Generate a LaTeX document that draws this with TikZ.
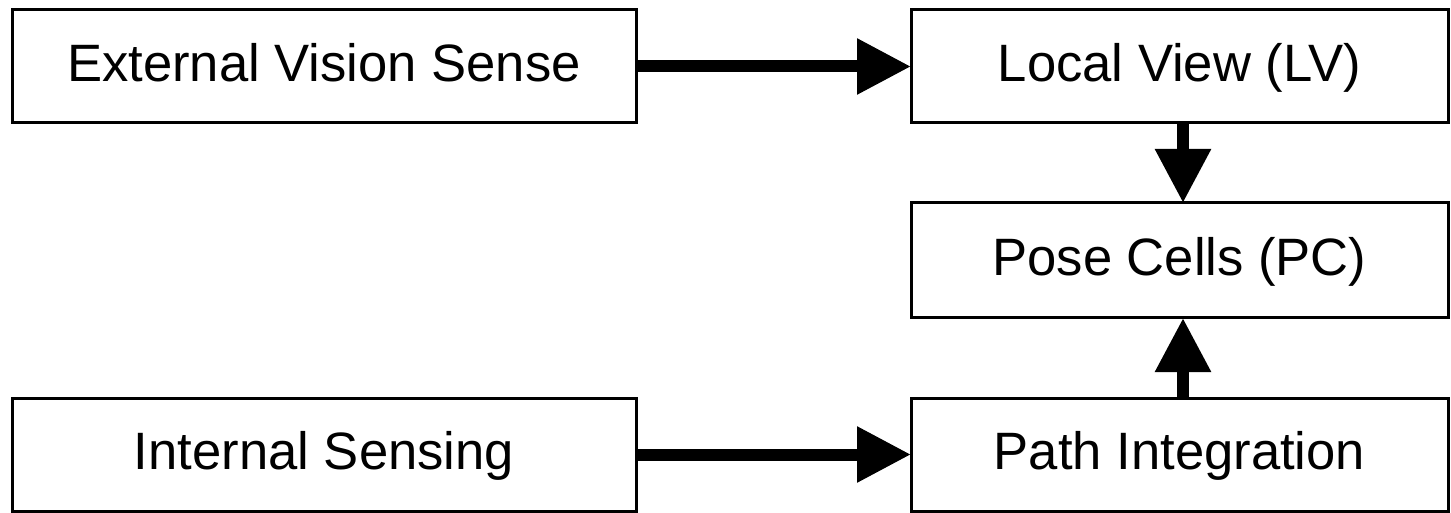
\documentclass[tikz,border=0pt]{standalone}
\usepackage{fontspec}
\setmainfont{Liberation Sans}
\usetikzlibrary{arrows.meta}
\begin{document}
\begin{tikzpicture}[x=0.5pt,y=-0.5pt,
  block/.style={draw=black, line width=1.5pt, fill=white, inner sep=0pt, outer sep=0pt,
    font=\fontsize{26.3pt}{32pt}\selectfont, text height=19pt, text depth=4pt},
  wideblock/.style={block, minimum width=312pt, minimum height=56.5pt},
  rightblock/.style={block, minimum width=268.5pt, minimum height=56.5pt},
  flow/.style={line width=6pt, -{Triangle[length=27pt,width=26.5pt]}}]
  \useasboundingbox (0,0) rectangle (1451,513);
  % left column: sensory inputs
  \node[wideblock] (evs) at (324,66.5) {External Vision Sense};
  \node[wideblock] (is) at (324,454.5) {Internal Sensing};
  % right column: processing stages
  \node[rightblock] (lv) at (1179.5,66.5) {Local View (LV)};
  \node[rightblock, minimum height=57.5pt] (pc) at (1179.5,260.5) {Pose Cells (PC)};
  \node[rightblock] (pi) at (1179.5,454.5) {Path Integration};
  % connectors
  \draw[flow] (evs) -- (lv);
  \draw[flow] (is) -- (pi);
  \draw[flow] ([xshift=1.75pt]lv.south) -- ([xshift=1.75pt]pc.north);
  \draw[flow] ([xshift=1.75pt]pi.north) -- ([xshift=1.75pt]pc.south);
\end{tikzpicture}
\end{document}
